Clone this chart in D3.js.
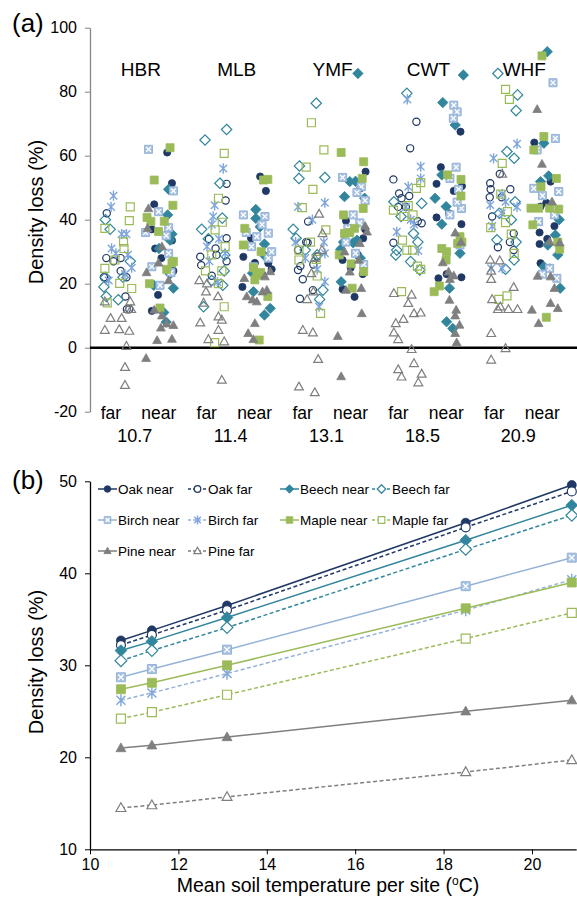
<!DOCTYPE html>
<html lang="en">
<head>
<meta charset="UTF-8" />
<title>Density loss by site and soil temperature</title>
<style>
  html, body {
    margin: 0;
    padding: 0;
    background: #fff;
  }
  svg {
    display: block;
    font-family: Arial, "Liberation Sans", sans-serif;
  }
</style>
</head>
<body>
<svg id="chart" width="577" height="898"></svg>

<script src="https://d3js.org/d3.v7.min.js"></script>
<script>
const sites = ["HBR", "MLB", "YMF", "CWT", "WHF"];
const temps = [10.7, 11.4, 13.1, 18.5, 20.9];
const positions = ["far", "near"];
const ticksA = [-20, 0, 20, 40, 60, 80, 100];
const ticksBX = [10, 12, 14, 16, 18, 20];
const ticksBY = [10, 20, 30, 40, 50];

// panel (a): per site, [jitter, density loss %]
const oakNear = [
  [[0.07,61],[0.17,51.4],[-0.2,44.8],[-0.25,37],[-0.18,31],[0.17,33.5],[-0.12,16.5],[-0.25,11.5],[-0.05,28],[0.2,24]],
  [[0.01,53.5],[0.13,49],[-0.18,34.2],[-0.34,28.4],[0.18,26.4],[-0.36,19],[-0.1,26.5],[0.05,23],[0.25,24.5]],
  [[0.21,55],[0.1,49.8],[-0.2,39.7],[0.16,34.2],[0.2,37],[-0.27,27.4],[-0.1,25],[0.05,29],[-0.27,18.3],[-0.02,15.9],[0.15,23]],
  [[0.19,67.5],[-0.22,56.4],[-0.31,51.2],[0.22,50.5],[0.05,49],[-0.31,40.7],[-0.05,42],[0.21,38.6],[-0.27,21.7],[0.21,22],[-0.1,23]],
  [[-0.27,64.1],[0.07,51.9],[-0.02,45.3],[-0.14,44.1],[-0.16,36],[-0.16,32.4],[0,34],[-0.14,26.4],[0.05,25],[0.15,38]]
];
const oakFar = [
  [[-0.19,42],[-0.2,28],[-0.25,22],[-0.05,27],[0.1,28],[0.1,24],[0.22,22],[0.2,16],[0.23,12],[0.28,12]],
  [[0.31,51.2],[0.29,46],[-0.06,34],[0.31,34.2],[0.08,31],[-0.24,28.4],[-0.22,25.8],[0.31,27],[0.1,29],[0,22.5]],
  [[0.01,39.4],[-0.03,33],[0,32.8],[-0.2,30.5],[-0.15,25.5],[-0.2,24.3],[-0.1,21.4],[0.11,18],[-0.16,15.3],[0.2,28.5],[0.12,26]],
  [[0.27,70.6],[0.14,62.3],[-0.21,52.6],[-0.09,48.2],[-0.04,46.7],[0.12,47.4],[-0.11,44],[0.05,44],[0.38,38.9],[0.3,39.5],[-0.21,32.8]],
  [[0.01,54.3],[-0.19,51.4],[-0.18,49.5],[0.23,49.5],[-0.2,47],[0.05,47],[-0.15,41],[0.3,35.7],[0.22,33],[-0.03,31.4],[0.3,30.5]]
];
const beechNear = [
  [[0.1,49.5],[0.08,41.5],[0.17,35.5],[0.13,33.6],[-0.1,31],[0.13,23],[0.2,18.6],[-0.21,19.5],[0,11],[0.05,8]],
  [[-0.08,43.2],[-0.08,40.4],[0.1,32.4],[0.01,37.8],[-0.15,23.3],[0.12,28.5],[-0.13,17.5],[0.22,12.3],[0.1,10.2]],
  [[0.05,85.7],[-0.12,51.9],[0,52],[-0.23,47.2],[0.19,46.7],[-0.25,33],[-0.05,32.8],[0.03,33.6],[-0.31,30.8],[0.1,28],[-0.3,20.6]],
  [[0.25,85.2],[-0.18,76.6],[0.08,69.6],[-0.2,54],[-0.34,46.7],[-0.11,44.1],[-0.2,38.6],[0.18,29.5],[-0.04,18.6],[-0.1,8.1],[0.03,6]],
  [[0,92.5],[-0.07,63.9],[0.03,53.7],[-0.14,51.9],[0.17,35.2],[0.01,32.1],[0.22,29],[-0.07,25.3],[0.27,18.6],[0.25,40]]
];
const beechFar = [
  [[-0.22,40],[-0.12,37],[-0.22,22],[-0.25,19],[-0.2,16],[0.05,15],[0.3,27],[0.15,22]],
  [[0.31,68.2],[-0.14,64.9],[0.17,51.4],[0.22,40.5],[-0.21,37],[-0.07,34],[0.27,29],[0,21],[0.23,19.5],[-0.17,12.8],[0.26,24]],
  [[0.18,76.4],[-0.17,56.8],[-0.18,52.9],[0.36,53.2],[-0.24,34.2],[-0.05,30.5],[0.2,29],[0.32,18],[0.25,15.1],[-0.3,37]],
  [[0.07,79.5],[-0.2,45.6],[0.38,45.1],[0.21,35.7],[0.3,33],[-0.14,30.5],[-0.16,29],[0.15,26.9],[0.34,24.3],[-0.05,41]],
  [[-0.03,85.7],[0.38,79],[0.35,74.1],[0.16,61.3],[0.31,59.2],[0.33,45.6],[0,42],[0.25,40],[-0.05,33.7],[0.35,33],[0.31,27.4],[0.13,24.5]]
];
const birchNear = [
  [[-0.32,62],[0.2,49],[-0.11,42.5],[0.1,37.5],[-0.38,36],[0.05,35],[0.1,29.5],[-0.25,25.3],[0.15,23.5],[-0.08,19.5]],
  [[-0.34,41.5],[0.11,41],[0.18,35.8],[-0.06,34.7],[-0.17,31.6],[0.18,28],[-0.13,25.3],[0.05,38.5],[-0.28,36],[0.25,30]],
  [[-0.27,53.2],[0.12,50.3],[0.03,48.5],[0.2,46],[0.09,39],[-0.16,37.3],[0,29.5],[-0.2,33],[0.17,26],[-0.05,41.5]],
  [[0.05,75.8],[0.12,73.7],[0.04,71.7],[0.1,56.4],[-0.03,52.9],[0.15,49.5],[0.21,43.5],[-0.03,41.5],[0.12,45.5],[0.18,32.1]],
  [[0.12,82.8],[0.17,65.4],[-0.21,61.8],[-0.28,49.8],[0.24,48.8],[-0.1,47.5],[0.15,41.5],[-0.18,39.4],[0.05,24.8],[-0.1,23],[0.2,21.7]]
];
const birchFar = [
  [[-0.05,47.5],[-0.1,44],[0.12,35.5],[0.22,35.5],[-0.09,31],[0,29.5],[0.25,29],[0.33,25],[0.19,23],[-0.15,21]],
  [[0.24,56],[0.06,44.5],[0.03,41],[0,38.5],[-0.1,31.6],[0.28,29.5],[0.15,34],[-0.05,27],[0.12,20.5]],
  [[0.36,45.3],[-0.2,44],[0.1,40],[0.34,33],[-0.25,33],[0.36,29.5],[-0.05,28],[0.2,24.5],[0.36,20.6],[0.24,12.8]],
  [[0.08,77.6],[0.36,56.6],[0.36,52.9],[0.1,50.3],[0.05,44],[0.15,40],[-0.14,36.2],[0.31,30.3],[0.22,38.5]],
  [[0.37,63.7],[-0.12,59.2],[0.06,48],[-0.19,44.6],[0.13,45.6],[0.37,44],[0.05,42],[-0.15,38],[-0.17,24.8],[0.06,24.8]]
];
const mapleNear = [
  [[0.13,62.5],[-0.2,52.4],[0.19,44.5],[-0.35,40.7],[-0.27,39.5],[0.01,39.5],[-0.11,36.3],[0.2,27],[0.06,24.5],[0.17,26.5],[-0.3,20],[-0.08,12.4]],
  [[0.08,52.4],[0.17,52.6],[-0.31,37.3],[-0.34,32.1],[0.03,30],[-0.13,25],[-0.06,22.7],[-0.1,21.2],[0.02,23.5],[0.17,16],[-0.01,2.4]],
  [[-0.3,61],[0.17,58.1],[0.14,52.9],[-0.25,41.5],[0.16,43.5],[-0.23,35.7],[-0.02,37.3],[-0.12,36],[-0.34,29],[-0.09,26.2],[0.17,23.8],[-0.07,18.6]],
  [[-0.08,54],[0.2,52.6],[0.2,47.4],[0.18,34.7],[0.13,32.6],[0.22,33],[-0.2,31],[-0.1,30],[-0.11,27.4],[-0.25,19.3],[-0.36,17.5]],
  [[-0.11,91.2],[-0.07,66],[-0.28,61.8],[0.19,52.9],[-0.13,50.3],[-0.34,43.6],[-0.18,43.6],[0.05,43.6],[0.24,43.3],[-0.3,38.4],[0.22,33],[0.26,30.8],[-0.02,9.5]]
];
const mapleFar = [
  [[0.3,44],[0.28,39.7],[-0.23,37.3],[0.16,33.1],[0.17,31],[-0.02,27.4],[0.08,20.1],[0.33,18.5],[-0.18,14],[-0.23,24.8]],
  [[0.26,60.7],[0.14,46.7],[0.07,36.8],[0.22,39.2],[0.28,31.6],[0,29],[0.21,24],[-0.13,24],[0.14,20],[0.26,12.8],[0.06,1.6]],
  [[0.08,70.3],[0.34,61.8],[-0.03,56.4],[0.11,49.5],[-0.11,43.8],[0.38,36.8],[0.06,33],[-0.18,30.5],[-0.18,27.4],[0.18,27.6],[0.2,22.4],[0.27,10.7]],
  [[0.36,51.6],[0.27,49.8],[0.1,44.4],[-0.21,43],[0.01,41],[0.2,41.5],[-0.02,33.6],[0.07,30.5],[0.19,30.5],[0.29,25.5],[0.36,24.5],[-0.04,17.5]],
  [[0.13,80.7],[0.21,77.6],[0.06,57.6],[0.03,48],[0.17,42.5],[0.13,39.1],[-0.18,37.5],[0.25,35.5],[0.31,29.5],[0.16,16.2],[-0.01,15.1]]
];
const pineNear = [
  [[-0.32,43.5],[-0.34,37.3],[-0.04,31.6],[-0.11,26.5],[-0.36,23.5],[0.1,21],[-0.2,11.8],[-0.04,10],[0.06,7.5],[0.2,7],[-0.06,6.2],[-0.14,2.3],[0.17,2.7],[-0.37,-3.3]],
  [[-0.32,21.7],[0.11,22.2],[0.22,23.8],[-0.27,16],[-0.06,14.4],[0.06,17.5],[-0.15,15],[0.15,18],[-0.1,7.6],[-0.24,4.5],[-0.13,2.6]],
  [[0.24,36.2],[0.2,38],[-0.23,30],[0.09,32.6],[-0.12,23.7],[0.07,27.4],[-0.2,18],[0.12,18.6],[0.13,10.7],[-0.37,3.6],[-0.3,-9]],
  [[0.08,35.9],[0.2,33],[-0.18,26.6],[-0.06,23.7],[0.05,22.5],[-0.03,21.4],[-0.04,14.9],[0.1,11.8],[0.08,10],[0.17,7.1],[0.08,4.5],[0.11,1.6]],
  [[-0.21,74.5],[-0.11,57.4],[0.1,45.6],[0.05,33.1],[0.26,32.8],[-0.2,22.4],[0.07,22.2],[0.15,18.6],[0.07,13.9],[0.22,12.3],[-0.32,11.8],[-0.18,7.6]]
];
const pineFar = [
  [[0.3,14.4],[-0.23,14.4],[-0.11,9.2],[0.12,9.2],[-0.23,5.5],[0.07,5.7],[0.28,5.2],[0.22,0.5],[0.19,-6.1],[0.19,-11.7],[0.25,12],[0.32,12]],
  [[-0.26,21],[-0.1,20],[-0.12,17.5],[0.13,16],[-0.17,14],[-0.24,7.8],[0.14,9.7],[0.21,8.7],[0.14,5.5],[-0.07,2.6],[0.26,1.9],[0.21,-10.1]],
  [[0.24,41.8],[0.31,35.7],[0.3,30.5],[0.15,28],[0.08,23.2],[0.12,17.5],[-0.01,15.1],[-0.1,5.5],[0.11,4.7],[0.22,-3.6],[-0.18,-12.2],[0.15,-14]],
  [[-0.2,17],[0.17,16.5],[0.1,13.9],[0,8.9],[0.22,10.7],[0.36,10.9],[-0.16,7.6],[-0.2,4.7],[-0.11,2.6],[0.17,-0.5],[0.22,-4.9],[-0.11,-6.8],[0.38,-8.2],[-0.04,-9.1],[0.31,-10.9]],
  [[0.06,54.3],[-0.19,27.4],[0.01,27.2],[-0.17,24],[-0.17,21.4],[0.3,18.9],[-0.15,15.1],[0.02,12.8],[-0.03,12],[0.19,12],[0.38,12],[-0.17,4.5],[0.13,-0.2],[-0.17,-3.8]]
];

// panel (b): fitted density loss at each site temperature
const oakNearFit   = [32.7, 33.8, 36.5, 45.5, 49.6];
const oakFarFit    = [32.2, 33.3, 36.0, 45.0, 48.9];
const beechNearFit = [31.6, 32.6, 35.2, 43.6, 47.4];
const beechFarFit  = [30.5, 31.6, 34.1, 42.6, 46.3];
const birchNearFit = [28.7, 29.6, 31.7, 38.6, 41.7];
const birchFarFit  = [26.2, 27.0, 29.1, 36.0, 39.3];
const mapleNearFit = [27.4, 28.1, 30.0, 36.2, 39.0];
const mapleFarFit  = [24.2, 24.9, 26.8, 32.9, 35.7];
const pineNearFit  = [21.0, 21.3, 22.2, 25.0, 26.2];
const pineFarFit   = [14.5, 14.8, 15.7, 18.4, 19.7];

const series = [
  { name: "Oak near",   pts: oakNear,   fit: oakNearFit,   pos: "near", shape: "circle",   style: "fill",    color: "#1F3864" },
  { name: "Oak far",    pts: oakFar,    fit: oakFarFit,    pos: "far",  shape: "circle",   style: "open",    color: "#1F3864" },
  { name: "Beech near", pts: beechNear, fit: beechNearFit, pos: "near", shape: "diamond",  style: "fill",    color: "#31859C" },
  { name: "Beech far",  pts: beechFar,  fit: beechFarFit,  pos: "far",  shape: "diamond",  style: "open",    color: "#31859C" },
  { name: "Birch near", pts: birchNear, fit: birchNearFit, pos: "near", shape: "square",   style: "pattern", color: "#95B3D7" },
  { name: "Birch far",  pts: birchFar,  fit: birchFarFit,  pos: "far",  shape: "star",     style: "line",    color: "#7FA6DC" },
  { name: "Maple near", pts: mapleNear, fit: mapleNearFit, pos: "near", shape: "square",   style: "fill",    color: "#9BBB59" },
  { name: "Maple far",  pts: mapleFar,  fit: mapleFarFit,  pos: "far",  shape: "square",   style: "open",    color: "#9BBB59" },
  { name: "Pine near",  pts: pineNear,  fit: pineNearFit,  pos: "near", shape: "triangle", style: "fill",    color: "#7F7F7F" },
  { name: "Pine far",   pts: pineFar,   fit: pineFarFit,   pos: "far",  shape: "triangle", style: "open",    color: "#7F7F7F" }
];
const lineColor = { "Birch near": "#95B3D7", "Birch far": "#95B3D7" };

const svg = d3.select("#chart");

function shapePath(shape, s) {
  if (shape === "circle") {
    return `M${-s},0a${s},${s} 0 1,0 ${2 * s},0a${s},${s} 0 1,0 ${-2 * s},0Z`;
  }
  if (shape === "square") {
    return `M${-s},${-s}h${2 * s}v${2 * s}h${-2 * s}Z`;
  }
  if (shape === "diamond") {
    const d = s * 1.3;
    return `M0,${-d}L${d},0L0,${d}L${-d},0Z`;
  }
  if (shape === "triangle") {
    return `M0,${-s * 1.15}L${s * 1.1},${s * 0.8}L${-s * 1.1},${s * 0.8}Z`;
  }
  // star: an x with a vertical bar through it
  return `M${-s},${-s}L${s},${s}M${-s},${s}L${s},${-s}M0,${-s * 1.35}V${s * 1.35}`;
}

function drawMarker(g, d, s, openFill) {
  const p = g.append("path").attr("d", shapePath(d.shape, s));
  if (d.style === "fill") {
    p.attr("fill", d.color).attr("stroke", d.color).attr("stroke-width", 0.8);
  } else if (d.style === "open") {
    p.attr("fill", openFill).attr("stroke", d.color).attr("stroke-width", 1.2);
  } else if (d.style === "line") {
    p.attr("fill", "none").attr("stroke", d.color).attr("stroke-width", 1.4);
  } else {
    p.attr("fill", "#A9C2E2").attr("stroke", "#95B3D7").attr("stroke-width", 1);
    g.append("path")
      .attr("d", `M${-s * 0.6},${-s * 0.6}L${s * 0.6},${s * 0.6}M${-s * 0.6},${s * 0.6}L${s * 0.6},${-s * 0.6}`)
      .attr("stroke", "#fff").attr("stroke-width", 1.3);
  }
}

// ---------- panel (a) ----------
const xA = d3.scaleLinear().domain([0.46, 10.6]).range([90, 576]);
const yA = d3.scaleLinear().domain([-20, 100]).range([411.7, 27.7]);
const colUnit = (site, pos) => site * 2 + (pos === "far" ? 1 : 2);

const axisA = svg.append("g")
  .attr("transform", `translate(${xA(0.46)},0)`)
  .call(d3.axisLeft(yA).tickValues(ticksA).tickFormat(d => String(d))
    .tickSize(5).tickSizeOuter(0).tickPadding(8));
axisA.select(".domain").attr("stroke", "#868686").attr("stroke-width", 1.3);
axisA.selectAll(".tick line").attr("stroke", "#868686");
axisA.selectAll(".tick text").attr("font-size", 16).attr("fill", "#000")
  .attr("font-family", "Arial, 'Liberation Sans', sans-serif");

svg.append("line")
  .attr("x1", xA(0.46)).attr("x2", 577)
  .attr("y1", yA(0)).attr("y2", yA(0))
  .attr("stroke", "#000").attr("stroke-width", 2.4);

const pointsA = svg.append("g");
series.forEach(d => {
  d.pts.forEach((sitePts, si) => {
    sitePts.forEach(([j, v]) => {
      const g = pointsA.append("g")
        .attr("transform", `translate(${xA(colUnit(si, d.pos) + j)},${yA(v)})`);
      drawMarker(g, d, d.shape === "circle" ? 3.6 : (d.shape === "star" ? 3.8 : 4), "none");
    });
  });
});

sites.forEach((s, i) => {
  svg.append("text")
    .attr("x", (xA(colUnit(i, "far")) + xA(colUnit(i, "near"))) / 2 + 1)
    .attr("y", 76)
    .attr("text-anchor", "middle")
    .attr("font-size", 19)
    .text(s);
  positions.forEach(p => {
    svg.append("text")
      .attr("x", xA(colUnit(i, p)) - 5)
      .attr("y", 419)
      .attr("text-anchor", "middle")
      .attr("font-size", 17.5)
      .text(p);
  });
  svg.append("text")
    .attr("x", (xA(colUnit(i, "far")) + xA(colUnit(i, "near"))) / 2 - 5)
    .attr("y", 442)
    .attr("text-anchor", "middle")
    .attr("font-size", 18)
    .text(temps[i]);
});

svg.append("text")
  .attr("transform", "translate(43,212) rotate(-90)")
  .attr("text-anchor", "middle")
  .attr("font-size", 20)
  .text("Density loss (%)");

svg.append("text").attr("x", 12).attr("y", 32).attr("font-size", 26).text("(a)");

// ---------- panel (b) ----------
const xB = d3.scaleLinear().domain([10, 21]).range([90, 576.2]);
const yB = d3.scaleLinear().domain([10, 50]).range([849.3, 481.3]);

const axisBY = svg.append("g")
  .attr("transform", `translate(${xB(10)},0)`)
  .call(d3.axisLeft(yB).tickValues(ticksBY).tickSize(5).tickSizeOuter(0).tickPadding(8));
const axisBX = svg.append("g")
  .attr("transform", `translate(0,${yB(10)})`)
  .call(d3.axisBottom(xB).tickValues(ticksBX).tickSize(5).tickSizeOuter(0).tickPadding(4));
[axisBY, axisBX].forEach(ax => {
  ax.select(".domain").attr("stroke", "#000").attr("stroke-width", 1.3);
  ax.selectAll(".tick text").attr("font-size", 16).attr("fill", "#000")
    .attr("font-family", "Arial, 'Liberation Sans', sans-serif");
});

const line = d3.line().x((v, i) => xB(temps[i])).y(v => yB(v));
const linesB = svg.append("g");
series.forEach(d => {
  linesB.append("path")
    .attr("d", line(d.fit))
    .attr("fill", "none")
    .attr("stroke", lineColor[d.name] || d.color)
    .attr("stroke-width", 1.5)
    .attr("stroke-dasharray", d.pos === "far" ? "4,2.5" : null);
});
series.forEach(d => {
  d.fit.forEach((v, i) => {
    const g = linesB.append("g").attr("transform", `translate(${xB(temps[i])},${yB(v)})`);
    drawMarker(g, d, 4.5, "#fff");
  });
});

// legend, 4 per row
const legCols = [98, 188, 280, 372];
const legRows = [489, 520, 551];
series.forEach((d, i) => {
  const x = legCols[i % 4];
  const y = legRows[Math.floor(i / 4)];
  const g = svg.append("g").attr("transform", `translate(${x},${y})`);
  g.append("line").attr("x1", 0).attr("x2", 19)
    .attr("stroke", lineColor[d.name] || d.color).attr("stroke-width", 1.5)
    .attr("stroke-dasharray", d.pos === "far" ? "3,2" : null);
  drawMarker(g.append("g").attr("transform", "translate(9.5,0)"), d, 3.3, "#fff");
  g.append("text").attr("x", 20).attr("y", 0).attr("dy", "0.35em")
    .attr("font-size", 13.5).text(d.name);
});

svg.append("text")
  .attr("transform", "translate(43,662) rotate(-90)")
  .attr("text-anchor", "middle")
  .attr("font-size", 20)
  .text("Density loss (%)");

const xTitle = svg.append("text")
  .attr("x", 328).attr("y", 892)
  .attr("text-anchor", "middle")
  .attr("font-size", 19.5);
xTitle.append("tspan").text("Mean soil temperature per site (");
xTitle.append("tspan").attr("font-size", 12).attr("dy", -7).text("o");
xTitle.append("tspan").attr("dy", 7).text("C)");

svg.append("text").attr("x", 12).attr("y", 489).attr("font-size", 26).text("(b)");
</script>
</body>
</html>
